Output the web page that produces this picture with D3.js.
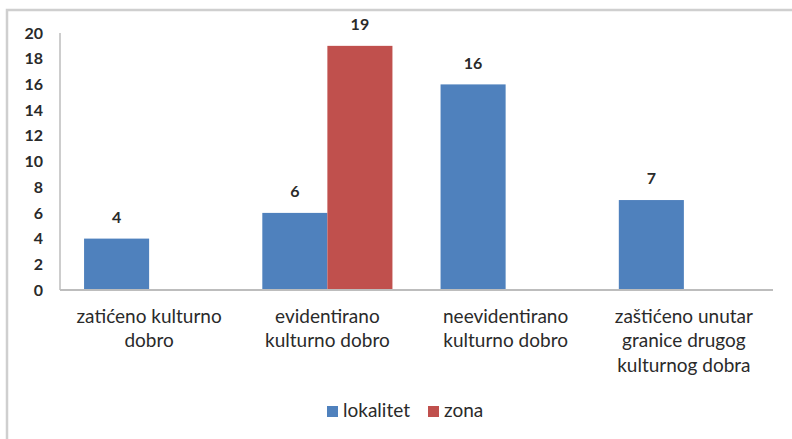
<!DOCTYPE html>
<html>
<head>
<meta charset="utf-8">
<script src="https://cdn.jsdelivr.net/npm/d3@7"></script>
<style>
  html, body { margin: 0; padding: 0; background: #fff; }
  svg { display: block; }
  text { font-family: Lato, "Open Sans", sans-serif; fill: #2a2a2a; }
</style>
</head>
<body>
<svg id="chart" width="792" height="439"></svg>
<script>
const categories = [
  ["zatićeno kulturno", "dobro"],
  ["evidentirano", "kulturno dobro"],
  ["neevidentirano", "kulturno dobro"],
  ["zaštićeno unutar", "granice drugog", "kulturnog dobra"]
];
const seriesNames = ["lokalitet", "zona"];
const lokalitet = [4, 6, 16, 7];
const zona = [null, 19, null, null];
const yTicks = [0, 2, 4, 6, 8, 10, 12, 14, 16, 18, 20];
const colors = ["#4f81bd", "#c0504d"];

const svg = d3.select("#chart");
const W = 792, H = 439;

// outer frame
svg.append("rect")
  .attr("x", 7).attr("y", 10)
  .attr("width", W + 10).attr("height", H + 10)
  .attr("fill", "none").attr("stroke", "#cfcfcf").attr("stroke-width", 2.5);

const plot = { left: 60, right: 773, top: 33, bottom: 290 };

const x0 = d3.scaleBand()
  .domain(d3.range(categories.length))
  .range([plot.left, plot.right])
  .paddingInner(0).paddingOuter(0);

const inner = 0.73; // fraction of band occupied by the bar group
const x1 = d3.scaleBand()
  .domain(seriesNames)
  .range([0, x0.bandwidth() * inner]);
const groupOffset = x0.bandwidth() * (1 - inner) / 2;

const y = d3.scaleLinear().domain([0, 20]).range([plot.bottom, plot.top]);

// y axis tick labels
const yAxis = d3.axisLeft(y).tickValues(yTicks).tickSize(0).tickPadding(17);
const gy = svg.append("g").attr("transform", `translate(${plot.left},0)`).call(yAxis);
gy.select(".domain").remove();
gy.selectAll("text")
  .style("font-size", "16px")
  .style("font-weight", "bold")
  .style("font-family", "Lato, sans-serif")
  .attr("fill", "#2a2a2a");

// y axis line
svg.append("line")
  .attr("x1", plot.left).attr("x2", plot.left)
  .attr("y1", y(20)).attr("y2", y(0))
  .attr("stroke", "#bdbdbd").attr("stroke-width", 1.5);

// bars
const data = [];
categories.forEach((c, i) => {
  [lokalitet, zona].forEach((arr, s) => {
    if (arr[i] != null) data.push({ i, s, v: arr[i] });
  });
});

svg.append("g").selectAll("rect").data(data).join("rect")
  .attr("x", d => x0(d.i) + groupOffset + x1(seriesNames[d.s]))
  .attr("y", d => y(d.v))
  .attr("width", x1.bandwidth())
  .attr("height", d => y(0) - y(d.v))
  .attr("fill", d => colors[d.s]);

// data labels
svg.append("g").selectAll("text").data(data).join("text")
  .attr("x", d => x0(d.i) + groupOffset + x1(seriesNames[d.s]) + x1.bandwidth() / 2)
  .attr("y", d => y(d.v) - 20)
  .attr("text-anchor", "middle")
  .attr("dominant-baseline", "middle")
  .style("font-size", "16px")
  .style("font-weight", "bold")
  .text(d => d.v);

// x axis line
svg.append("line")
  .attr("x1", plot.left).attr("x2", plot.right)
  .attr("y1", y(0)).attr("y2", y(0))
  .attr("stroke", "#bdbdbd").attr("stroke-width", 2);

// category labels
const gx = svg.append("g");
categories.forEach((lines, i) => {
  const t = gx.append("text")
    .attr("text-anchor", "middle")
    .style("font-size", "19px");
  lines.forEach((ln, k) => {
    t.append("tspan")
      .attr("x", x0(i) + x0.bandwidth() / 2)
      .attr("y", 318 + k * 24.5)
      .attr("dominant-baseline", "middle")
      .text(ln);
  });
});

// legend
const legend = svg.append("g");
const legendItems = [
  { name: seriesNames[0], color: colors[0], x: 327 },
  { name: seriesNames[1], color: colors[1], x: 428 }
];
legendItems.forEach(it => {
  legend.append("rect")
    .attr("x", it.x).attr("y", 406)
    .attr("width", 11).attr("height", 11)
    .attr("fill", it.color);
  legend.append("text")
    .attr("x", it.x + 16).attr("y", 412)
    .attr("dominant-baseline", "middle")
    .style("font-size", "19px")
    .text(it.name);
});
</script>
</body>
</html>
